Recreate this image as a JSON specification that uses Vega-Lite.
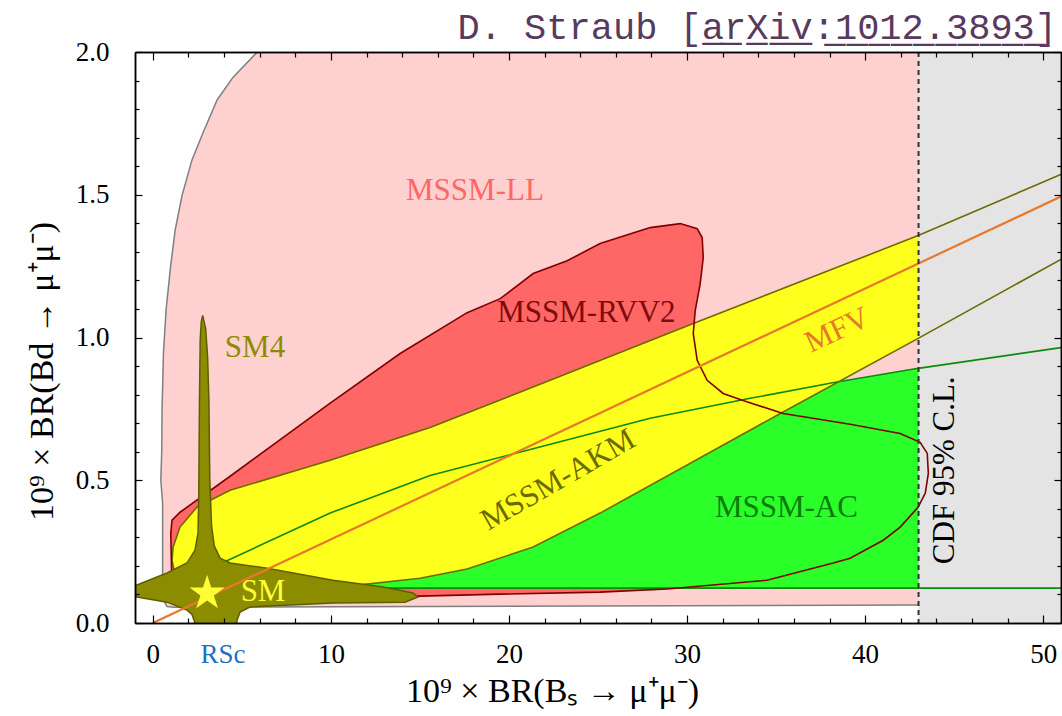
{
  "$schema": "https://vega.github.io/schema/vega-lite/v6.json",
  "width": 926,
  "height": 571,
  "autosize": {"type": "none"},
  "padding": {"left": 135, "top": 52, "right": 1, "bottom": 93},
  "background": "white",
  "title": {"text": "D. Straub [a̲r̲X̲i̲v̲:̲1̲0̲1̲2̲.̲3̲8̲9̲3̲]", "anchor": "end", "frame": "group", "font": "Liberation Mono", "fontSize": 37, "fontWeight": "normal", "color": "#573a5d", "offset": 10, "baseline": "alphabetic", "dx": -4, "dy": 48},
  "config": {
    "view": {"stroke": null},
    "axis": {"labelFont": "Liberation Serif", "labelFontSize": 27, "labelColor": "black", "titleFont": "Liberation Serif", "titleFontSize": 34, "titleFontWeight": "normal", "titleColor": "black", "domainColor": "black", "domainWidth": 1.5, "tickColor": "black", "tickWidth": 1.2, "grid": false, "zindex": 1, "labelOverlap": false, "labelFlush": false}
  },
  "datasets": {
    "ll": [
      {"x": 6.3, "y": 2.1}, {"x": 5.87, "y": 2.0}, {"x": 4.51, "y": 1.912}, {"x": 3.61, "y": 1.832}, {"x": 2.82, "y": 1.717}, {"x": 2.2, "y": 1.622}, {"x": 1.64, "y": 1.497}, {"x": 1.25, "y": 1.374}, {"x": 1.0, "y": 1.25}, {"x": 0.75, "y": 1.1}, {"x": 0.6, "y": 0.95}, {"x": 0.52, "y": 0.75}, {"x": 0.5, "y": 0.6}, {"x": 0.45, "y": 0.5}, {"x": 0.55, "y": 0.42}, {"x": 0.55, "y": 0.15}, {"x": 0.6, "y": 0.08}, {"x": 0.8, "y": 0.058}, {"x": 1.2, "y": 0.055}, {"x": 43, "y": 0.063}, {"x": 52, "y": 0.065}, {"x": 52, "y": 2.1}
    ],
    "rvv2": [
      {"x": 1.08, "y": 0.091}, {"x": 1.01, "y": 0.315}, {"x": 1.08, "y": 0.36}, {"x": 1.53, "y": 0.388}, {"x": 4.34, "y": 0.514}, {"x": 9.96, "y": 0.77}, {"x": 13.89, "y": 0.944}, {"x": 17.65, "y": 1.087}, {"x": 19.51, "y": 1.136}, {"x": 21.36, "y": 1.224}, {"x": 23.27, "y": 1.269}, {"x": 25.12, "y": 1.329}, {"x": 27.93, "y": 1.385}, {"x": 29.62, "y": 1.399}, {"x": 30.57, "y": 1.381}, {"x": 30.85, "y": 1.35}, {"x": 30.91, "y": 1.28}, {"x": 30.74, "y": 1.189}, {"x": 30.46, "y": 1.094}, {"x": 30.35, "y": 1.014}, {"x": 30.57, "y": 0.92}, {"x": 31.13, "y": 0.85}, {"x": 32.03, "y": 0.804}, {"x": 33.1, "y": 0.78}, {"x": 35.4, "y": 0.734}, {"x": 39.16, "y": 0.696}, {"x": 41.97, "y": 0.664}, {"x": 43.09, "y": 0.633}, {"x": 43.49, "y": 0.594}, {"x": 43.55, "y": 0.524}, {"x": 43.38, "y": 0.455}, {"x": 42.98, "y": 0.406}, {"x": 41.97, "y": 0.336}, {"x": 41.02, "y": 0.29}, {"x": 39.16, "y": 0.227}, {"x": 38.21, "y": 0.21}, {"x": 34.49, "y": 0.15}, {"x": 28.88, "y": 0.119}, {"x": 25.12, "y": 0.108}, {"x": 19.5, "y": 0.101}, {"x": 15.01, "y": 0.094}
    ],
    "akm": [
      {"x": 1.08, "y": 0.22}, {"x": 1.14, "y": 0.266}, {"x": 1.53, "y": 0.336}, {"x": 2.48, "y": 0.406}, {"x": 4.34, "y": 0.465}, {"x": 9.96, "y": 0.57}, {"x": 15.57, "y": 0.685}, {"x": 22.31, "y": 0.85}, {"x": 30.35, "y": 1.049}, {"x": 42.98, "y": 1.357}, {"x": 51.07, "y": 1.573}, {"x": 52.08, "y": 1.601},
      {"x": 52.08, "y": 1.311}, {"x": 51.07, "y": 1.276}, {"x": 42.98, "y": 0.997}, {"x": 35.24, "y": 0.734}, {"x": 31.3, "y": 0.598}, {"x": 25.12, "y": 0.385}, {"x": 21.36, "y": 0.266}, {"x": 17.65, "y": 0.189}, {"x": 15.01, "y": 0.157}, {"x": 9.96, "y": 0.122}, {"x": 5.46, "y": 0.112}, {"x": 2.09, "y": 0.126}, {"x": 1.25, "y": 0.168}
    ],
    "ac": [
      {"x": 3.49, "y": 0.199}, {"x": 4.22, "y": 0.22}, {"x": 9.96, "y": 0.385}, {"x": 15.57, "y": 0.517}, {"x": 21.03, "y": 0.605}, {"x": 27.93, "y": 0.717}, {"x": 33.55, "y": 0.787}, {"x": 38.33, "y": 0.843}, {"x": 42.98, "y": 0.892}, {"x": 51.07, "y": 0.965}, {"x": 52.08, "y": 0.976},
      {"x": 52.08, "y": 0.122}, {"x": 3.49, "y": 0.122}
    ],
    "sm4": [
      {"x": 2.8, "y": 1.077}, {"x": 2.97, "y": 1.03}, {"x": 3.08, "y": 0.93}, {"x": 3.15, "y": 0.78}, {"x": 3.2, "y": 0.5}, {"x": 3.3, "y": 0.34}, {"x": 3.45, "y": 0.27}, {"x": 3.78, "y": 0.227}, {"x": 4.34, "y": 0.21}, {"x": 6.42, "y": 0.192}, {"x": 10.12, "y": 0.15}, {"x": 12.93, "y": 0.126}, {"x": 14.61, "y": 0.105}, {"x": 14.89, "y": 0.091}, {"x": 14.16, "y": 0.073}, {"x": 10.12, "y": 0.07}, {"x": 5.46, "y": 0.056}, {"x": 4.9, "y": 0.038}, {"x": 4.73, "y": 0.01}, {"x": 4.67, "y": -0.04}, {"x": 2.43, "y": -0.04}, {"x": 2.37, "y": 0.0}, {"x": 2.2, "y": 0.03}, {"x": 1.92, "y": 0.045}, {"x": 0.8, "y": 0.073}, {"x": -0.89, "y": 0.091}, {"x": -2.1, "y": 0.096}, {"x": -2.1, "y": 0.136}, {"x": -0.89, "y": 0.133}, {"x": 0.8, "y": 0.175}, {"x": 1.92, "y": 0.21}, {"x": 2.37, "y": 0.255}, {"x": 2.54, "y": 0.315}, {"x": 2.58, "y": 0.45}, {"x": 2.62, "y": 0.78}, {"x": 2.66, "y": 0.99}, {"x": 2.72, "y": 1.055}
    ],
    "mfv": [{"x": 0, "y": 0}, {"x": 52, "y": 1.523}],
    "cdf": [{"x": 43, "x2": 52, "y": 0, "y2": 2.1}],
    "star": [{"x": 3.05, "y": 0.104}],
    "labels": [
      {"label": "MSSM-LL", "x": 18.09, "y": 1.514},
      {"label": "MSSM-RVV2", "x": 24.35, "y": 1.087},
      {"label": "SM4", "x": 5.74, "y": 0.962},
      {"label": "SM", "x": 6.19, "y": 0.108},
      {"label": "MSSM-AC", "x": 35.58, "y": 0.402}
    ],
    "mfvlabel": [{"label": "MFV", "x": 38.44, "y": 1.024}],
    "akmlabel": [{"label": "MSSM-AKM", "x": 22.77, "y": 0.5}],
    "cdflabel": [{"label": "CDF 95% C.L.", "x": 44.5, "y": 0.535}],
    "rsc": [{"label": "RSc", "x": 3.94, "y": -0.112}]
  },
  "resolve": {"axis": {"x": "independent", "y": "independent"}},
  "layer": [
    {
      "data": {"name": "ll"},
      "mark": {"type": "line", "interpolate": "linear-closed", "fill": "#ffd0d0", "stroke": "#7f7f7f", "strokeWidth": 1.5, "clip": true},
      "encoding": {
        "x": {"field": "x", "type": "quantitative", "scale": {"domain": [-1, 51], "nice": false, "zero": false},
          "axis": {"orient": "bottom", "values": [0, 10, 20, 30, 40, 50], "format": "d", "tickSize": -8, "labelPadding": 26, "zindex": 1, "title": "10⁹ × BR(Bₛ → μ⁺μ⁻)", "titleX": 417, "titleY": 78, "titleBaseline": "alphabetic", "titleAlign": "center"}},
        "y": {"field": "y", "type": "quantitative", "scale": {"domain": [0, 2], "nice": false, "zero": false},
          "axis": {"orient": "left", "values": [0, 0.5, 1.0, 1.5, 2.0], "format": ".1f", "tickSize": -7, "labelPadding": 33, "zindex": 1, "title": "10⁹ × BR(Bd → μ⁺μ⁻)", "titleX": -83, "titleY": 319, "titleAngle": 270, "titleBaseline": "alphabetic", "titleAlign": "center"}},
        "order": {"value": null}
      }
    },
    {
      "data": {"name": "rvv2"},
      "mark": {"type": "line", "interpolate": "linear-closed", "fill": "#ff6666", "strokeWidth": 0, "clip": true},
      "encoding": {
        "x": {"field": "x", "type": "quantitative", "scale": {"domain": [-1, 51], "nice": false, "zero": false},
          "axis": {"orient": "bottom", "values": [2,4,6,8,12,14,16,18,22,24,26,28,32,34,36,38,42,44,46,48], "labels": false, "tickSize": -5, "zindex": 1, "title": null}},
        "y": {"field": "y", "type": "quantitative", "scale": {"domain": [0, 2], "nice": false, "zero": false},
          "axis": {"orient": "left", "values": [0.1,0.2,0.3,0.4,0.6,0.7,0.8,0.9,1.1,1.2,1.3,1.4,1.6,1.7,1.8,1.9], "labels": false, "tickSize": -4, "zindex": 1, "title": null}},
        "order": {"value": null}
      }
    },
    {
      "data": {"name": "ac"},
      "mark": {"type": "line", "interpolate": "linear-closed", "fill": "#2aff2a", "strokeWidth": 0, "clip": true},
      "encoding": {
        "x": {"field": "x", "type": "quantitative", "scale": {"domain": [-1, 51], "nice": false, "zero": false},
          "axis": {"orient": "top", "values": [2,4,6,8,12,14,16,18,22,24,26,28,32,34,36,38,42,44,46,48], "labels": false, "tickSize": -5, "zindex": 1, "title": null}},
        "y": {"field": "y", "type": "quantitative", "scale": {"domain": [0, 2], "nice": false, "zero": false},
          "axis": {"orient": "right", "values": [0.1,0.2,0.3,0.4,0.6,0.7,0.8,0.9,1.1,1.2,1.3,1.4,1.6,1.7,1.8,1.9], "labels": false, "tickSize": -4, "zindex": 1, "title": null}},
        "order": {"value": null}
      }
    },
    {
      "data": {"name": "akm"},
      "mark": {"type": "line", "interpolate": "linear-closed", "fill": "#ffff1e", "strokeWidth": 0, "clip": true},
      "encoding": {
        "x": {"field": "x", "type": "quantitative", "scale": {"domain": [-1, 51], "nice": false, "zero": false}, "axis": null},
        "y": {"field": "y", "type": "quantitative", "scale": {"domain": [0, 2], "nice": false, "zero": false}, "axis": null},
        "order": {"value": null}
      }
    },
    {
      "data": {"name": "cdf"},
      "mark": {"type": "rect", "color": "#e4e4e4", "clip": true},
      "encoding": {
        "x": {"field": "x", "type": "quantitative", "scale": {"domain": [-1, 51], "nice": false, "zero": false},
          "axis": {"orient": "top", "values": [0, 10, 20, 30, 40, 50], "labels": false, "tickSize": -8, "zindex": 1, "title": null}},
        "x2": {"field": "x2"},
        "y": {"field": "y", "type": "quantitative", "scale": {"domain": [0, 2], "nice": false, "zero": false},
          "axis": {"orient": "right", "values": [0, 0.5, 1.0, 1.5, 2.0], "labels": false, "tickSize": -7, "zindex": 1, "title": null}},
        "y2": {"field": "y2"}
      }
    },
    {
      "data": {"name": "ac"},
      "mark": {"type": "line", "interpolate": "linear-closed", "stroke": "#0b8a0b", "strokeWidth": 1.6, "clip": true},
      "encoding": {
        "x": {"field": "x", "type": "quantitative", "scale": {"domain": [-1, 51], "nice": false, "zero": false}, "axis": null},
        "y": {"field": "y", "type": "quantitative", "scale": {"domain": [0, 2], "nice": false, "zero": false}, "axis": null},
        "order": {"value": null}
      }
    },
    {
      "data": {"name": "akm"},
      "mark": {"type": "line", "interpolate": "linear-closed", "stroke": "#6b6b00", "strokeWidth": 1.6, "clip": true},
      "encoding": {
        "x": {"field": "x", "type": "quantitative", "scale": {"domain": [-1, 51], "nice": false, "zero": false}, "axis": null},
        "y": {"field": "y", "type": "quantitative", "scale": {"domain": [0, 2], "nice": false, "zero": false}, "axis": null},
        "order": {"value": null}
      }
    },
    {
      "data": {"name": "rvv2"},
      "mark": {"type": "line", "interpolate": "linear-closed", "stroke": "#800000", "strokeWidth": 1.6, "clip": true},
      "encoding": {
        "x": {"field": "x", "type": "quantitative", "scale": {"domain": [-1, 51], "nice": false, "zero": false}, "axis": null},
        "y": {"field": "y", "type": "quantitative", "scale": {"domain": [0, 2], "nice": false, "zero": false}, "axis": null},
        "order": {"value": null}
      }
    },
    {
      "data": {"name": "sm4"},
      "mark": {"type": "line", "interpolate": "linear-closed", "fill": "#8c8c00", "stroke": "#5e5e00", "strokeWidth": 1.5, "clip": true},
      "encoding": {
        "x": {"field": "x", "type": "quantitative", "scale": {"domain": [-1, 51], "nice": false, "zero": false}, "axis": null},
        "y": {"field": "y", "type": "quantitative", "scale": {"domain": [0, 2], "nice": false, "zero": false}, "axis": null},
        "order": {"value": null}
      }
    },
    {
      "data": {"name": "mfv"},
      "mark": {"type": "line", "stroke": "#e8782a", "strokeWidth": 2.2, "clip": true},
      "encoding": {
        "x": {"field": "x", "type": "quantitative", "scale": {"domain": [-1, 51], "nice": false, "zero": false}, "axis": null},
        "y": {"field": "y", "type": "quantitative", "scale": {"domain": [0, 2], "nice": false, "zero": false}, "axis": null}
      }
    },
    {
      "data": {"name": "cdf"},
      "mark": {"type": "rule", "stroke": "#333333", "strokeWidth": 2, "strokeDash": [5, 4], "clip": true},
      "encoding": {
        "x": {"field": "x", "type": "quantitative", "scale": {"domain": [-1, 51], "nice": false, "zero": false}, "axis": null}
      }
    },
    {
      "data": {"name": "star"},
      "mark": {"type": "point", "shape": "M0,-1L0.2245,-0.309L0.951,-0.309L0.363,0.118L0.588,0.809L0,0.382L-0.588,0.809L-0.363,0.118L-0.951,-0.309L-0.2245,-0.309Z", "filled": true, "size": 1370, "color": "#ffff33", "opacity": 1, "strokeWidth": 0},
      "encoding": {
        "x": {"field": "x", "type": "quantitative", "scale": {"domain": [-1, 51], "nice": false, "zero": false}, "axis": null},
        "y": {"field": "y", "type": "quantitative", "scale": {"domain": [0, 2], "nice": false, "zero": false}, "axis": null}
      }
    },
    {
      "data": {"name": "labels"},
      "mark": {"type": "text", "font": "Liberation Serif", "fontSize": 31, "align": "center", "baseline": "middle"},
      "encoding": {
        "x": {"field": "x", "type": "quantitative", "scale": {"domain": [-1, 51], "nice": false, "zero": false}, "axis": null},
        "y": {"field": "y", "type": "quantitative", "scale": {"domain": [0, 2], "nice": false, "zero": false}, "axis": null},
        "text": {"field": "label"},
        "color": {"field": "label", "type": "nominal", "scale": {"domain": ["MSSM-LL", "MSSM-RVV2", "SM4", "SM", "MSSM-AC"], "range": ["#ff6666", "#7d0d0d", "#8c8c00", "#ffff33", "#0b7d0b"]}, "legend": null}
      }
    },
    {
      "data": {"name": "mfvlabel"},
      "mark": {"type": "text", "font": "Liberation Serif", "fontSize": 31, "align": "center", "baseline": "middle", "angle": 335, "color": "#e8782a"},
      "encoding": {
        "x": {"field": "x", "type": "quantitative", "scale": {"domain": [-1, 51], "nice": false, "zero": false}, "axis": null},
        "y": {"field": "y", "type": "quantitative", "scale": {"domain": [0, 2], "nice": false, "zero": false}, "axis": null},
        "text": {"field": "label"}
      }
    },
    {
      "data": {"name": "akmlabel"},
      "mark": {"type": "text", "font": "Liberation Serif", "fontSize": 31, "align": "center", "baseline": "middle", "angle": 330, "color": "#6b6b00"},
      "encoding": {
        "x": {"field": "x", "type": "quantitative", "scale": {"domain": [-1, 51], "nice": false, "zero": false}, "axis": null},
        "y": {"field": "y", "type": "quantitative", "scale": {"domain": [0, 2], "nice": false, "zero": false}, "axis": null},
        "text": {"field": "label"}
      }
    },
    {
      "data": {"name": "cdflabel"},
      "mark": {"type": "text", "font": "Liberation Serif", "fontSize": 31, "align": "center", "baseline": "middle", "angle": 270, "color": "black"},
      "encoding": {
        "x": {"field": "x", "type": "quantitative", "scale": {"domain": [-1, 51], "nice": false, "zero": false}, "axis": null},
        "y": {"field": "y", "type": "quantitative", "scale": {"domain": [0, 2], "nice": false, "zero": false}, "axis": null},
        "text": {"field": "label"}
      }
    },
    {
      "data": {"name": "rsc"},
      "mark": {"type": "text", "font": "Liberation Serif", "fontSize": 27, "align": "center", "baseline": "middle", "color": "#1f6fc0", "clip": false},
      "encoding": {
        "x": {"field": "x", "type": "quantitative", "scale": {"domain": [-1, 51], "nice": false, "zero": false}, "axis": null},
        "y": {"field": "y", "type": "quantitative", "scale": {"domain": [0, 2], "nice": false, "zero": false}, "axis": null},
        "text": {"field": "label"}
      }
    }
  ]
}
